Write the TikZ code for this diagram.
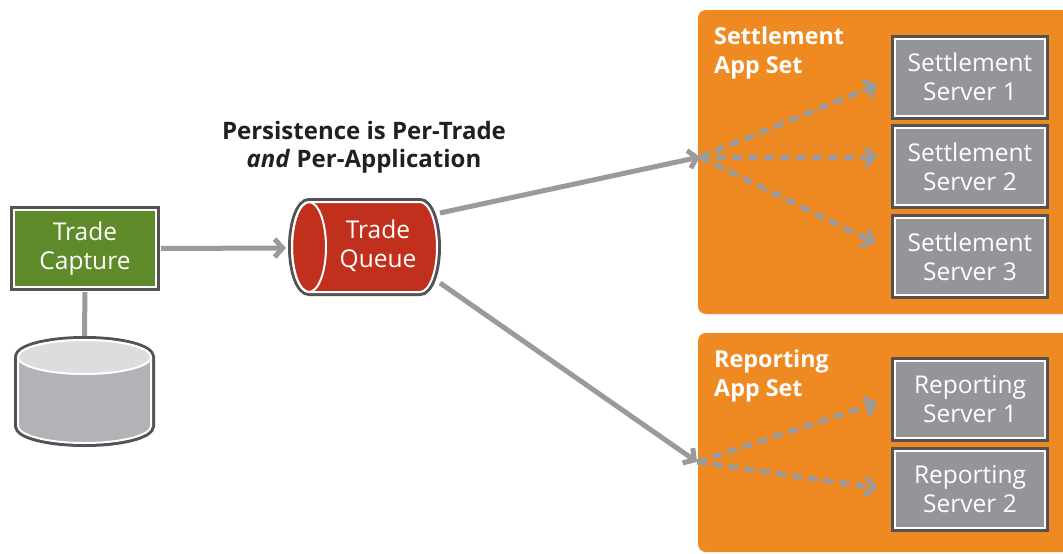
\documentclass[tikz,border=0pt]{standalone}
\usepackage{fontspec}
\setmainfont{Open Sans}
\usetikzlibrary{arrows.meta}
\definecolor{tgreen}{HTML}{5E8A2A}
\definecolor{tred}{HTML}{C1301C}
\definecolor{torange}{HTML}{EE8A21}
\definecolor{sgray}{HTML}{939598}
\definecolor{ringgray}{HTML}{535355}
\definecolor{dbbody}{HTML}{B1B3B6}
\definecolor{dbtopc}{HTML}{DCDDDF}
\definecolor{agray}{HTML}{9A9A9C}
\definecolor{ttext}{HTML}{231F20}
\begin{document}
\begin{tikzpicture}[x=1pt,y=-1pt,
  framed/.style={draw=white, line width=2pt, preaction={draw=ringgray, line width=8pt}},
  boxtext/.style={text=white, font=\fontsize{24.5}{29}\selectfont, align=center, inner sep=0pt},
  server/.style={framed, fill=sgray, boxtext, minimum width=150pt, minimum height=77pt},
  appbox/.style={fill=torange, rounded corners=8pt, inner sep=0pt},
  apptitle/.style={text=white, font=\bfseries\fontsize{23.3}{29}\selectfont, align=left, anchor=west, inner sep=0pt},
  conn/.style={draw=agray, line width=5pt},
  arr/.style={conn, -{Straight Barb[length=8pt,width=18pt]}},
  darr/.style={arr, dash pattern=on 10pt off 6pt}
]
\useasboundingbox (0,0) rectangle (1063,554);
\fill[white] (0,0) rectangle (1063,554);

% app set containers
\node[appbox, minimum width=380pt, minimum height=304pt] (setbox) at (888,162) {};
\node[appbox, minimum width=380pt, minimum height=219pt] (repbox) at (888,442.5) {};
\node[apptitle] (settitle) at (714,53) {Settlement\\App Set};
\node[apptitle] (reptitle) at (714,376) {Reporting\\App Set};

% servers
\node[server] (s1) at (970,77) {Settlement\\Server 1};
\node[server] (s2) at (970,166.5) {Settlement\\Server 2};
\node[server] (s3) at (970,256.5) {Settlement\\Server 3};
\node[server] (r1) at (970,399.5) {Reporting\\Server 1};
\node[server] (r2) at (970,489.5) {Reporting\\Server 2};

% trade capture
\node[framed, fill=tgreen, boxtext, minimum width=142pt, minimum height=77pt] (tc) at (85,248.5) {Trade\\Capture};

% database cylinder
\path[framed, fill=dbbody] (18,357) -- (18,426) arc[start angle=180, end angle=0, x radius=66.5, y radius=17]
  -- (151,357) arc[start angle=0, end angle=-180, x radius=66.5, y radius=17] -- cycle;
\draw[white, line width=2pt, fill=dbtopc] (84.5,357) ellipse[x radius=66.5, y radius=17];
\coordinate (dbtop) at (84.5,336);

% trade queue cylinder
\path[framed, fill=tred] (309,202) -- (420,202) arc[start angle=-90, end angle=90, x radius=17, y radius=45]
  -- (309,292) arc[start angle=90, end angle=270, x radius=17, y radius=45] -- cycle;
\draw[white, line width=2pt] (309,247) ellipse[x radius=17, y radius=45];
\node[boxtext] (tq) at (378,246) {Trade\\Queue};
\coordinate (qin) at (286,248);
\coordinate (qtr) at (440,213);
\coordinate (qbr) at (440,283);

% heading
\node[text=ttext, font=\bfseries\fontsize{24}{28}\selectfont, align=center, inner sep=0pt] (head) at (364,147)
  {Persistence is Per-Trade\\\textit{and} Per-Application};

% hubs
\coordinate (shub) at (700,157);
\coordinate (rhub) at (697,462);
\coordinate (sa1) at (877,85);
\coordinate (sa2) at (877,157);
\coordinate (sa3) at (875,243);
\coordinate (ra1) at (877,403);
\coordinate (ra2) at (877,488);

% connectors
\draw[conn, shorten <=4pt] (tc.south) -- (dbtop);
\draw[arr, shorten <=4pt] (tc.east) -- (qin);
\draw[arr] (qtr) -- (shub);
\draw[arr] (qbr) -- (rhub);
\draw[darr] (shub) -- (sa1);
\draw[darr] (shub) -- (sa2);
\draw[darr] (shub) -- (sa3);
\draw[darr] (rhub) -- (ra1);
\draw[darr] (rhub) -- (ra2);
\end{tikzpicture}
\end{document}
